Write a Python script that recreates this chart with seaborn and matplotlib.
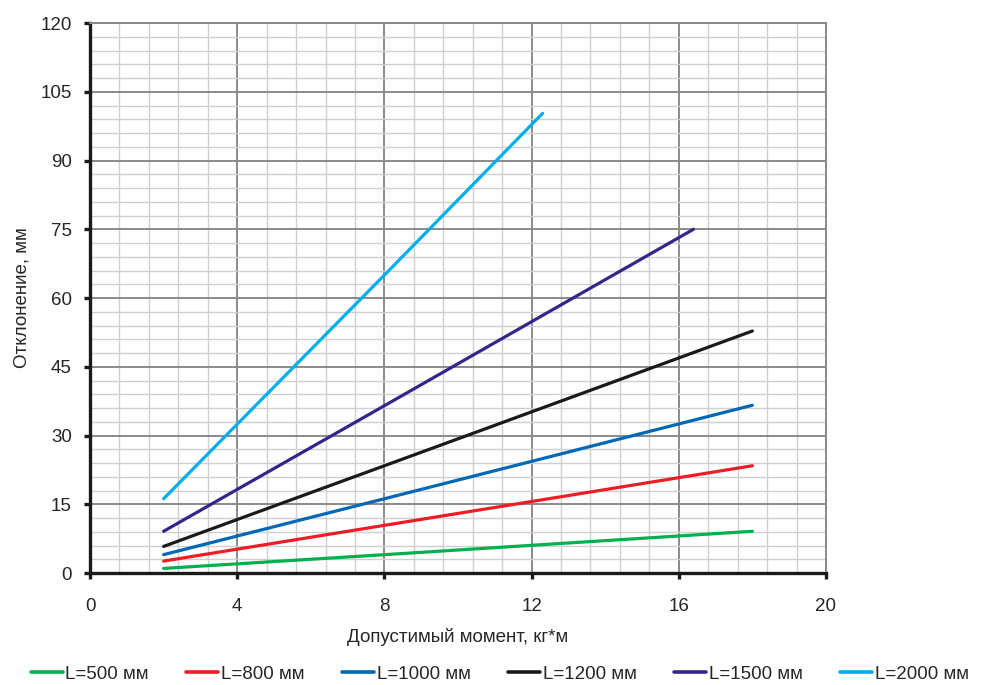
import numpy as np
import pandas as pd
import matplotlib
matplotlib.use("Agg")
import matplotlib.pyplot as plt
import seaborn as sns
from matplotlib.ticker import MultipleLocator

# values
labels = ["L=500 мм", "L=800 мм", "L=1000 мм", "L=1200 мм", "L=1500 мм", "L=2000 мм"]
x500 = [2, 8, 18]
y500 = [1.0, 4.0, 9.1]
x800 = [2, 8, 18]
y800 = [2.6, 10.4, 23.4]
x1000 = [2, 8, 18]
y1000 = [4.0, 16.2, 36.6]
x1200 = [2, 8, 18]
y1200 = [5.8, 23.4, 52.8]
x1500 = [2, 8, 16.4]
y1500 = [9.1, 36.5, 75.0]
x2000 = [2, 8, 12.3]
y2000 = [16.2, 65.0, 100.3]
colors = ["#00b050", "#ee1c25", "#0068b4", "#1a1a1a", "#35258a", "#00aeef"]

xs = [x500, x800, x1000, x1200, x1500, x2000]
ys = [y500, y800, y1000, y1200, y1500, y2000]
rows = []
for lab, xx, yy in zip(labels, xs, ys):
    for a, b in zip(xx, yy):
        rows.append({"x": a, "y": b, "series": lab})
df = pd.DataFrame(rows)

sns.set_style("white")
plt.rcParams['font.family'] = ['Liberation Sans', 'DejaVu Sans']

fig = plt.figure(figsize=(9.86, 6.85), dpi=100)
ax = fig.add_axes([0.0913, 0.1635, 0.7464, 0.8029])

sns.lineplot(data=df, x="x", y="y", hue="series", palette=colors,
             hue_order=labels, linewidth=2.3, ax=ax, legend=False,
             estimator=None, sort=True)

ax.set_xlim(0, 20)
ax.set_ylim(0, 120)
ax.xaxis.set_major_locator(MultipleLocator(4))
ax.xaxis.set_minor_locator(MultipleLocator(0.8))
ax.yaxis.set_major_locator(MultipleLocator(15))
ax.yaxis.set_minor_locator(MultipleLocator(3))
ax.grid(which="minor", color="#cfcfcf", linewidth=1.0)
ax.grid(which="major", color="#8a8a8a", linewidth=1.4)
ax.set_axisbelow(True)

for s in ["top", "right"]:
    ax.spines[s].set_color("#8a8a8a")
    ax.spines[s].set_linewidth(1.4)
for s in ["left", "bottom"]:
    ax.spines[s].set_color("#1a1a1a")
    ax.spines[s].set_linewidth(2.4)

ax.tick_params(which="major", direction="out", length=4, width=2.4,
               color="#1a1a1a", labelsize=13.5, left=True, bottom=True)
ax.tick_params(axis="x", which="major", pad=14)
ax.tick_params(axis="y", which="major", pad=9)
ax.tick_params(which="minor", length=0)

ax.set_xlabel("Допустимый момент, кг*м", fontsize=13.5, labelpad=9)
ax.set_ylabel("Отклонение, мм", fontsize=13.5, labelpad=7)

handles = [plt.Line2D([0], [0], color=c, linewidth=2.6) for c in colors]
fig.legend(handles, labels, loc="lower center", bbox_to_anchor=(0.507, -0.021),
           ncol=6, frameon=False, fontsize=13.5, handlelength=1.7,
           handletextpad=0.15, columnspacing=2.0)

fig.savefig("out.png", dpi=100)
